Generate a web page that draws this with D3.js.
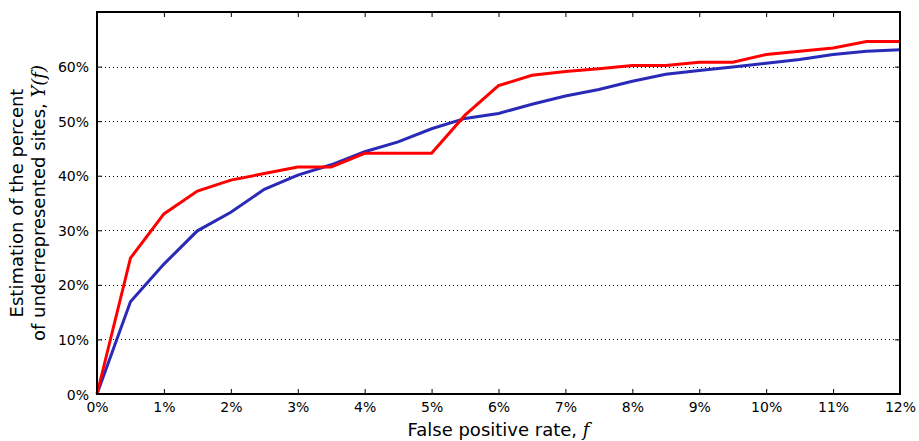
<!DOCTYPE html>
<html><head><meta charset="utf-8">
<script src="https://cdn.jsdelivr.net/npm/d3@7/dist/d3.min.js"></script>
<style>body{margin:0;background:#fff}svg{display:block}text{font-family:"DejaVu Sans",sans-serif;fill:#000}</style>
</head><body><svg id="c" width="919" height="441"></svg>
<script>
const fpr = [0,0.5,1,1.5,2,2.5,3,3.5,4,4.5,5,5.5,6,6.5,7,7.5,8,8.5,9,9.5,10,10.5,11,11.5,12];
const redSeries = [0,24.9,33.0,37.2,39.2,40.4,41.6,41.6,44.1,44.1,44.1,51.1,56.5,58.4,59.1,59.6,60.2,60.2,60.8,60.8,62.2,62.8,63.4,64.6,64.6];
const blueSeries = [0,16.9,23.8,29.9,33.3,37.5,40.1,42.0,44.4,46.2,48.6,50.5,51.4,53.1,54.6,55.8,57.3,58.6,59.3,59.9,60.6,61.3,62.2,62.8,63.1];
const xTicks = [0,1,2,3,4,5,6,7,8,9,10,11,12];
const yTicks = [0,10,20,30,40,50,60];

const svg = d3.select("#c");
const L=97,R=900,T=12,B=394;
const x = d3.scaleLinear().domain([0,12]).range([L,R]);
const y = d3.scaleLinear().domain([0,70]).range([B,T]);

// grid
svg.append("g").selectAll("line").data(yTicks.filter(d=>d>0)).join("line")
  .attr("x1",L).attr("x2",R).attr("y1",d=>Math.round(y(d))+0.5).attr("y2",d=>Math.round(y(d))+0.5)
  .attr("stroke","#000").attr("stroke-width",1).attr("stroke-dasharray","1,3");

const line = d3.line().x((d,i)=>x(fpr[i])).y(d=>y(d));
svg.append("path").datum(blueSeries).attr("d",line).attr("fill","none").attr("stroke","#2a2ab8").attr("stroke-width",3).attr("stroke-linejoin","miter");
svg.append("path").datum(redSeries).attr("d",line).attr("fill","none").attr("stroke","#ff0000").attr("stroke-width",3).attr("stroke-linejoin","miter");

// axes with inward ticks
const fmt = d=>d+"%";
const gb = svg.append("g").attr("transform",`translate(0,${B})`).call(d3.axisBottom(x).tickValues(xTicks).tickFormat(fmt).tickSizeInner(-5).tickSizeOuter(0).tickPadding(8));
const gt = svg.append("g").attr("transform",`translate(0,${T})`).call(d3.axisTop(x).tickValues(xTicks).tickFormat("").tickSizeInner(-5).tickSizeOuter(0));
const gl = svg.append("g").attr("transform",`translate(${L},0)`).call(d3.axisLeft(y).tickValues(yTicks).tickFormat(fmt).tickSizeInner(-5).tickSizeOuter(0).tickPadding(8));
const gr = svg.append("g").attr("transform",`translate(${R},0)`).call(d3.axisRight(y).tickValues(yTicks).tickFormat("").tickSizeInner(-5).tickSizeOuter(0));
[gb,gt,gl,gr].forEach(g=>{g.select(".domain").remove();g.selectAll("line").attr("stroke","#000");g.selectAll("text").style("font-family","DejaVu Sans").style("font-size","14px");});
gl.selectAll("text").attr("dy","0.36em");

svg.append("rect").attr("x",L).attr("y",T).attr("width",R-L).attr("height",B-T).attr("fill","none").attr("stroke","#000").attr("stroke-width",2);

// labels
const xl = svg.append("text").attr("x",(L+R)/2).attr("y",436).attr("text-anchor","middle").style("font-size","18px");
xl.append("tspan").text("False positive rate,  ");
xl.append("tspan").text("f").style("font-family","DejaVu Serif").style("font-style","italic");

const yl = svg.append("g").attr("transform",`translate(0,${(T+B)/2}) rotate(-90)`);
yl.append("text").attr("x",0).attr("y",23).attr("text-anchor","middle").style("font-size","18px").text("Estimation of the percent");
const y2 = yl.append("text").attr("x",0).attr("y",45).attr("text-anchor","middle").style("font-size","18px");
y2.append("tspan").text("of underrepresented sites, ");
y2.append("tspan").text("Y(f)").style("font-family","DejaVu Serif").style("font-style","italic");
</script></body></html>
